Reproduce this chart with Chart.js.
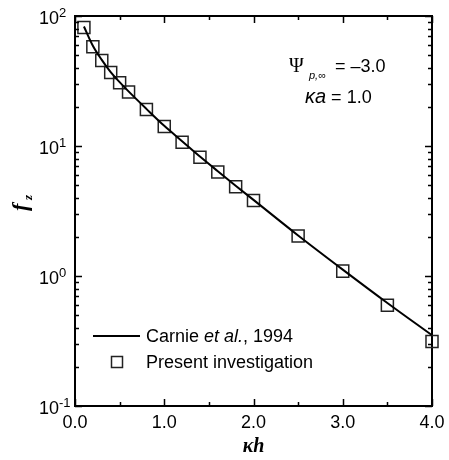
<!DOCTYPE html>
<html>
<head>
<meta charset="utf-8">
<script src="https://cdn.jsdelivr.net/npm/chart.js@4.4.1/dist/chart.umd.min.js"></script>
<style>
  html, body { margin: 0; padding: 0; background: #fff; }
  #wrap { width: 449px; height: 460px; position: relative; }
</style>
</head>
<body>
<div id="wrap"><canvas id="c"></canvas></div>
<script>
// Carnie et al., 1994 (solid line)
const carnieX = [0.1, 0.2, 0.3, 0.4, 0.5, 0.6, 0.8, 1.0, 1.2, 1.4, 1.6, 1.8, 2.0, 2.5, 3.0, 3.5, 4.0];
const carnieY = [83, 59, 46, 37, 31, 26.3, 19.3, 14.3, 10.9, 8.3, 6.4, 4.95, 3.85, 2.05, 1.12, 0.62, 0.35];

// Present investigation (open squares)
const presentX = [0.1, 0.2, 0.3, 0.4, 0.5, 0.6, 0.8, 1.0, 1.2, 1.4, 1.6, 1.8, 2.0, 2.5, 3.0, 3.5, 4.0];
const presentY = [81.6, 58.1, 45.5, 36.7, 30.7, 26.0, 19.1, 14.1, 10.7, 8.18, 6.31, 4.86, 3.81, 2.03, 1.09, 0.596, 0.313];

const xTicks = [0, 1, 2, 3, 4];
const xMinorTicks = [0.5, 1.5, 2.5, 3.5];
const yDecadeExps = [-1, 0, 1, 2];

const SANS = '"Liberation Sans", Arial, sans-serif';
const SERIF = '"Liberation Serif", "Times New Roman", serif';

// inward ticks, tick labels, titles, legend and annotation
const decorations = {
  id: 'decorations',
  afterDraw(chart) {
    const { ctx, chartArea: a, scales: { x, y } } = chart;
    ctx.save();
    ctx.strokeStyle = '#000';
    ctx.fillStyle = '#000';
    ctx.lineWidth = 1.5;

    // x ticks (bottom and top)
    const xt = (v, len) => {
      const px = Math.round(x.getPixelForValue(v)) + 0.5;
      ctx.beginPath();
      ctx.moveTo(px, a.bottom); ctx.lineTo(px, a.bottom - len);
      ctx.moveTo(px, a.top); ctx.lineTo(px, a.top + len);
      ctx.stroke();
    };
    xTicks.forEach(v => xt(v, 7));
    xMinorTicks.forEach(v => xt(v, 4));

    // y ticks (left and right)
    const yt = (v, len) => {
      const py = Math.round(y.getPixelForValue(v)) + 0.5;
      ctx.beginPath();
      ctx.moveTo(a.left, py); ctx.lineTo(a.left + len, py);
      ctx.moveTo(a.right, py); ctx.lineTo(a.right - len, py);
      ctx.stroke();
    };
    yDecadeExps.forEach((e, i) => {
      yt(Math.pow(10, e), 7);
      if (i < yDecadeExps.length - 1) {
        for (let m = 2; m <= 9; m++) yt(m * Math.pow(10, e), 4);
      }
    });

    // x tick labels
    ctx.font = '18px ' + SANS;
    ctx.textAlign = 'center';
    ctx.textBaseline = 'alphabetic';
    xTicks.forEach(v => {
      ctx.fillText(v.toFixed(1), x.getPixelForValue(v), a.bottom + 22);
    });

    // y tick labels 10^n
    yDecadeExps.forEach(e => {
      const py = y.getPixelForValue(Math.pow(10, e));
      ctx.font = '13px ' + SANS;
      ctx.textAlign = 'left';
      ctx.fillText(String(e), a.left - 16, py + 1);
      ctx.font = '18px ' + SANS;
      ctx.textAlign = 'right';
      ctx.fillText('10', a.left - 16, py + 8);
    });

    // x axis title: κh
    ctx.font = 'italic bold 20px ' + SERIF;
    ctx.textAlign = 'center';
    ctx.fillText('\u03BAh', (a.left + a.right) / 2, a.bottom + 46);

    // y axis title: f_z
    ctx.save();
    ctx.translate(27, (a.top + a.bottom) / 2 - 8);
    ctx.rotate(-Math.PI / 2);
    ctx.font = 'italic bold 22px ' + SERIF;
    ctx.textAlign = 'left';
    ctx.fillText('f', -8, 0);
    ctx.font = 'italic bold 13px ' + SERIF;
    ctx.fillText('z', 3, 5);
    ctx.restore();

    // annotation
    ctx.textAlign = 'left';
    ctx.font = '20px ' + SERIF;
    ctx.fillText('\u03A8', 289, 72);
    ctx.font = 'italic 11px ' + SANS;
    ctx.fillText('p,\u221E', 309, 79);
    ctx.font = '18px ' + SANS;
    ctx.fillText('= \u20133.0', 335, 72);
    ctx.font = 'italic 20px ' + SANS;
    ctx.fillText('\u03BAa', 305, 103);
    const kaW = ctx.measureText('\u03BAa').width;
    ctx.font = '18px ' + SANS;
    ctx.fillText(' = 1.0', 305 + kaW, 103);

    // legend
    ctx.lineWidth = 2;
    ctx.beginPath();
    ctx.moveTo(93, 336); ctx.lineTo(140, 336);
    ctx.stroke();
    ctx.font = '18px ' + SANS;
    let tx = 146;
    ctx.fillText('Carnie ', tx, 342);
    tx += ctx.measureText('Carnie ').width;
    ctx.font = 'italic 18px ' + SANS;
    ctx.fillText('et al.', tx, 342);
    tx += ctx.measureText('et al.').width;
    ctx.font = '18px ' + SANS;
    ctx.fillText(', 1994', tx, 342);

    ctx.lineWidth = 1.5;
    ctx.strokeStyle = '#222';
    ctx.strokeRect(111.5, 356.5, 11, 11);
    ctx.fillText('Present investigation', 146, 368);

    ctx.restore();
  }
};

const zeroW = s => { s.width = 0; };
const zeroH = s => { s.height = 0; };
const axisBase = {
  grid: { display: false },
  ticks: { display: false },
  border: { display: true, color: '#000', width: 2 }
};

new Chart(document.getElementById('c'), {
  type: 'scatter',
  data: {
    datasets: [
      {
        label: 'Carnie et al., 1994',
        data: carnieX.map((v, i) => ({ x: v, y: carnieY[i] })),
        showLine: true,
        borderColor: '#000',
        borderWidth: 2,
        pointRadius: 0,
        cubicInterpolationMode: 'monotone',
        fill: false
      },
      {
        label: 'Present investigation',
        data: presentX.map((v, i) => ({ x: v, y: presentY[i] })),
        showLine: false,
        pointStyle: 'rect',
        pointRadius: 8.5,
        pointBorderWidth: 1.5,
        pointBorderColor: '#222',
        pointBackgroundColor: 'rgba(0,0,0,0)'
      }
    ]
  },
  options: {
    responsive: true,
    maintainAspectRatio: false,
    animation: false,
    clip: false,
    layout: { padding: { left: 75, right: 17, top: 16, bottom: 54 } },
    plugins: { legend: { display: false }, tooltip: { enabled: false } },
    scales: {
      x: { ...axisBase, type: 'linear', min: 0, max: 4, afterFit: zeroH },
      y: { ...axisBase, type: 'logarithmic', min: 0.1, max: 100, afterFit: zeroW },
      x2: { ...axisBase, type: 'linear', position: 'top', min: 0, max: 4, afterFit: zeroH },
      y2: { ...axisBase, type: 'logarithmic', position: 'right', min: 0.1, max: 100, afterFit: zeroW }
    }
  },
  plugins: [decorations]
});
</script>
</body>
</html>
